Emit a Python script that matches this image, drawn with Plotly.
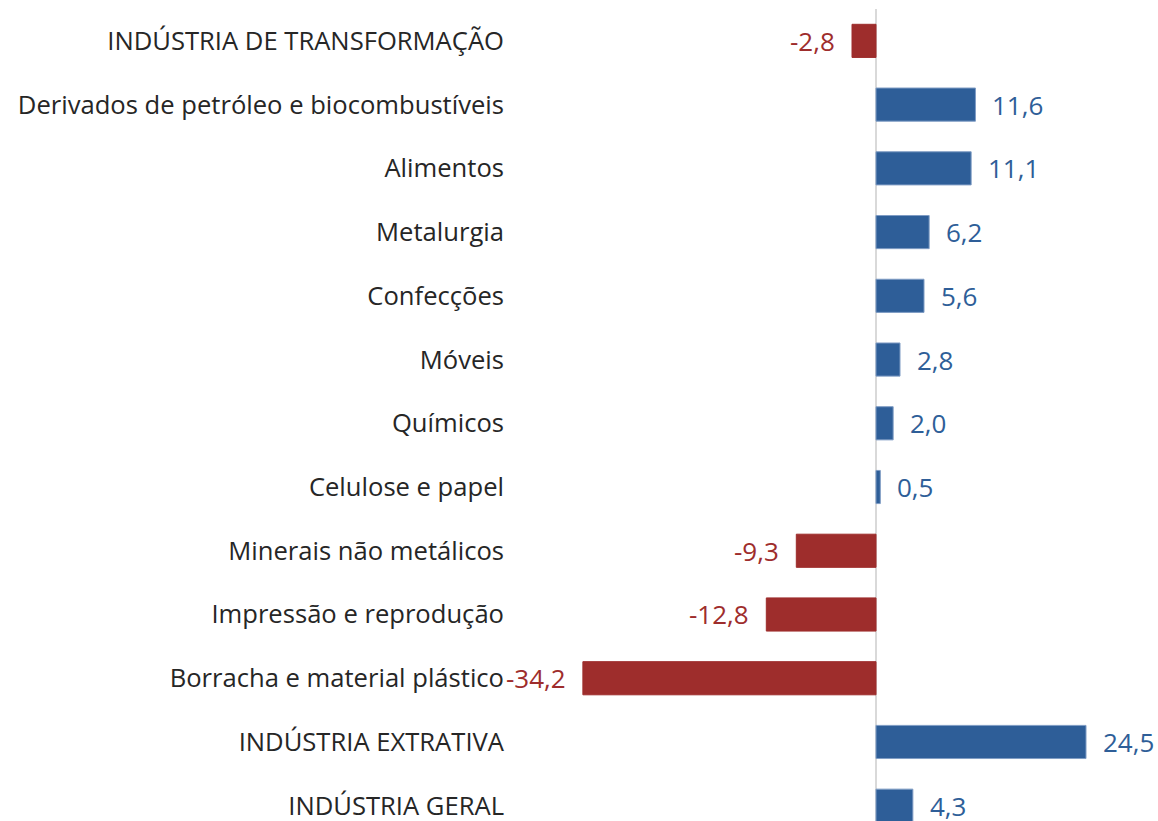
import plotly.graph_objects as go

# Categories (top to bottom) and variation values (%)
categories = [
    'INDÚSTRIA DE TRANSFORMAÇÃO',
    'Derivados de petróleo e biocombustíveis',
    'Alimentos',
    'Metalurgia',
    'Confecções',
    'Móveis',
    'Químicos',
    'Celulose e papel',
    'Minerais não metálicos',
    'Impressão e reprodução',
    'Borracha e material plástico',
    'INDÚSTRIA EXTRATIVA',
    'INDÚSTRIA GERAL',
]
values = [-2.8, 11.6, 11.1, 6.2, 5.6, 2.8, 2.0, 0.5, -9.3, -12.8, -34.2, 24.5, 4.3]

RED = '#9E2D2C'
BLUE = '#2E5E98'
colors = [RED if v < 0 else BLUE for v in values]
labels = [f'{v:.1f}'.replace('.', ',') for v in values]

fig = go.Figure()

fig.add_trace(go.Bar(
    y=categories,
    x=values,
    orientation='h',
    marker=dict(color=colors, line=dict(color=['#7F9CC4' if v >= 0 else RED for v in values], width=1)),
    width=0.52,
    hoverinfo='x+y',
))

# value labels next to the bar ends
for cat, v, lab, col in zip(categories, values, labels, colors):
    fig.add_annotation(
        x=v, y=cat, text=lab, showarrow=False,
        xanchor='left' if v >= 0 else 'right',
        xshift=15 if v >= 0 else -15,
        font=dict(size=26, color=col, family='Open Sans'),
    )

fig.update_layout(
    width=1158,
    height=821,
    plot_bgcolor='white',
    paper_bgcolor='white',
    showlegend=False,
    margin=dict(l=515, r=0, t=9, b=0),
    font=dict(family='Open Sans', size=25.6, color='#262626'),
    xaxis=dict(
        range=[-42.12, 32.9],
        showgrid=False,
        showticklabels=False,
        zeroline=True,
        zerolinecolor='#D9D9D9',
        zerolinewidth=2,
        automargin=False,
        fixedrange=True,
    ),
    yaxis=dict(
        range=[12.24, -0.5],
        showgrid=False,
        ticks='',
        ticklabelstandoff=10,
        automargin=False,
        fixedrange=True,
    ),
)

# remove the default page margin so the figure sits at the top-left corner
fig.write_html(
    'out.html',
    config={'displayModeBar': False},
    post_script="document.body.style.margin='0';document.body.style.overflow='hidden';",
)
